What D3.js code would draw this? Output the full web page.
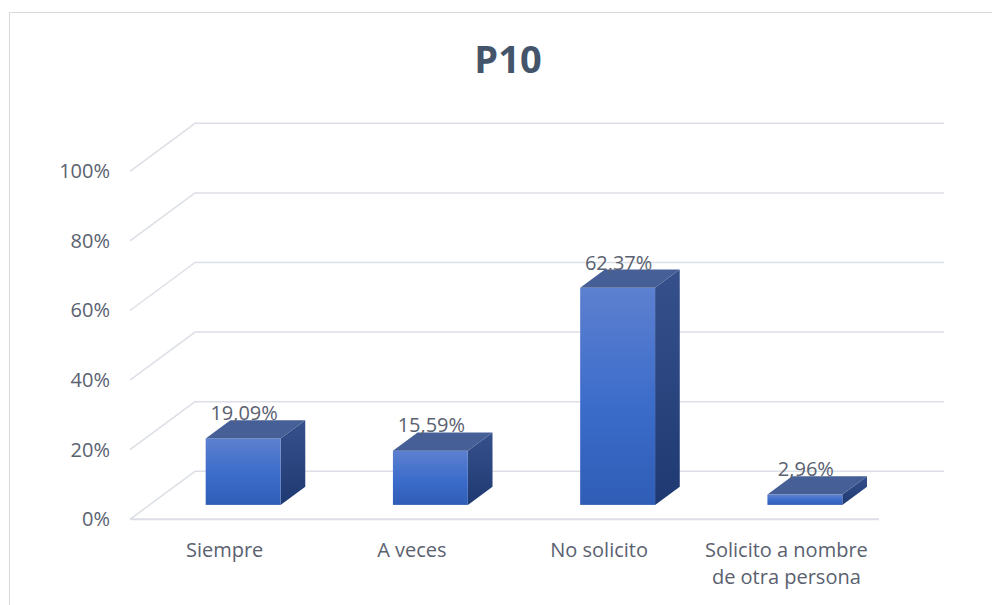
<!DOCTYPE html>
<html>
<head>
<meta charset="utf-8">
<script src="https://cdn.jsdelivr.net/npm/d3@7"></script>
<style>
    html, body { margin: 0; padding: 0; background: #fff; }
    svg { display: block; font-family: "Open Sans", sans-serif; }
</style>
</head>
<body>
<div id="chart"></div>
<script>
// values
const title = "P10";
const categories = ["Siempre", "A veces", "No solicito", "Solicito a nombre de otra persona"];
const values = [0.1909, 0.1559, 0.6237, 0.0296];
const yTicks = [0, 0.2, 0.4, 0.6, 0.8, 1];

const width = 992, height = 605;
const textColor = "#5a6170";
const gridColor = "#dcdfe6";

// floor of the 3d plot: front edge and depth vector
const floor = { x0: 130, x1: 879, y: 519.3 };
const depth = { dx: 65, dy: -48 };
// bar sits between these fractions of the depth
const barFront = 0.3, barBack = 0.68;

const locale = d3.formatLocale({ decimal: ",", thousands: ".", grouping: [3], currency: ["", "€"] });
const pct2 = locale.format(".2%");
const pct0 = d3.format(".0%");

const svg = d3.select("#chart")
    .append("svg")
    .attr("width", width)
    .attr("height", height);

// chart area border
svg.append("rect")
    .attr("x", 9.5).attr("y", 12.5)
    .attr("width", 1000).attr("height", 700)
    .attr("fill", "#fff")
    .attr("stroke", "#d9d9d9");

svg.append("text")
    .attr("x", 508).attr("y", 73)
    .attr("text-anchor", "middle")
    .attr("font-size", 38)
    .attr("font-weight", "bold")
    .attr("fill", "#44546a")
    .text(title);

// scales
const y = d3.scaleLinear()
    .domain([0, 1])
    .range([floor.y, floor.y - 348]);

const x = d3.scaleBand()
    .domain(categories)
    .range([floor.x0, floor.x1])
    .padding(0);

// gridlines: back wall + left wall diagonal
const grid = svg.append("g").attr("class", "grid")
    .attr("stroke", gridColor)
    .attr("stroke-width", 1.5)
    .attr("fill", "none");

grid.selectAll("line.back")
    .data(yTicks)
    .enter()
    .append("line")
    .attr("class", "back")
    .attr("x1", floor.x0 + depth.dx).attr("y1", d => y(d) + depth.dy)
    .attr("x2", floor.x1 + depth.dx).attr("y2", d => y(d) + depth.dy);

grid.selectAll("line.side")
    .data(yTicks)
    .enter()
    .append("line")
    .attr("class", "side")
    .attr("x1", floor.x0).attr("y1", d => y(d))
    .attr("x2", floor.x0 + depth.dx).attr("y2", d => y(d) + depth.dy);

// front edge of the floor
grid.append("line")
    .attr("stroke-width", 2)
    .attr("x1", floor.x0).attr("y1", floor.y)
    .attr("x2", floor.x1).attr("y2", floor.y);

// y axis labels at the front
svg.append("g")
    .attr("class", "y axis")
    .attr("transform", "translate(110,0)")
    .call(d3.axisLeft(y)
        .tickValues(yTicks)
        .tickFormat(pct0)
        .tickSize(0)
        .tickPadding(0))
    .call(g => g.select(".domain").remove())
    .call(g => g.selectAll("text")
        .attr("font-family", "Open Sans")
        .attr("font-size", 20)
        .attr("fill", textColor));

// gradients
const defs = svg.append("defs");
const gFront = defs.append("linearGradient")
    .attr("id", "gFront").attr("x1", 0).attr("y1", 0).attr("x2", 0).attr("y2", 1);
gFront.append("stop").attr("offset", "0%").attr("stop-color", "#5d80d0");
gFront.append("stop").attr("offset", "55%").attr("stop-color", "#3b6cca");
gFront.append("stop").attr("offset", "100%").attr("stop-color", "#2f5db6");

const gSide = defs.append("linearGradient")
    .attr("id", "gSide").attr("x1", 0).attr("y1", 0).attr("x2", 0).attr("y2", 1);
gSide.append("stop").attr("offset", "0%").attr("stop-color", "#36508c");
gSide.append("stop").attr("offset", "100%").attr("stop-color", "#1f3a72");

// bars
const barW = x.bandwidth() * 0.4;
const fdx = depth.dx * barFront, fdy = depth.dy * barFront;
const bdx = depth.dx * (barBack - barFront), bdy = depth.dy * (barBack - barFront);

const bars = svg.selectAll("g.bar")
    .data(categories.map((c, i) => ({ c: c, v: values[i] })))
    .enter()
    .append("g")
    .attr("class", "bar");

function geom(d) {
    const cx = x(d.c) + x.bandwidth() / 2 + fdx;
    return {
        x0: cx - barW / 2,
        x1: cx + barW / 2,
        yb: y(0) + fdy,
        yt: y(d.v) + fdy
    };
}

bars.append("path")
    .attr("fill", "url(#gSide)")
    .attr("d", d => {
        const b = geom(d);
        return `M${b.x1},${b.yt}L${b.x1 + bdx},${b.yt + bdy}L${b.x1 + bdx},${b.yb + bdy}L${b.x1},${b.yb}Z`;
    });

bars.append("rect")
    .attr("fill", "url(#gFront)")
    .attr("x", d => geom(d).x0)
    .attr("y", d => geom(d).yt)
    .attr("width", barW)
    .attr("height", d => geom(d).yb - geom(d).yt);

bars.append("path")
    .attr("fill", "#475f97")
    .attr("d", d => {
        const b = geom(d);
        return `M${b.x0},${b.yt}L${b.x0 + bdx},${b.yt + bdy}L${b.x1 + bdx},${b.yt + bdy}L${b.x1},${b.yt}Z`;
    });

// data labels
bars.append("text")
    .attr("x", d => (geom(d).x0 + geom(d).x1) / 2 + 1)
    .attr("y", d => geom(d).yt + bdy)
    .attr("text-anchor", "middle")
    .attr("font-size", 20)
    .attr("fill", textColor)
    .text(d => pct2(d.v));

// category labels, wrapped like excel does
const catLabels = svg.selectAll("text.cat")
    .data(categories)
    .enter()
    .append("text")
    .attr("class", "cat")
    .attr("text-anchor", "middle")
    .attr("font-size", 20)
    .attr("fill", textColor);

catLabels.each(function (d) {
    const el = d3.select(this);
    const cx = x(d) + x.bandwidth() / 2 + 1;
    const words = d.split(" ");
    let line = [];
    let lineNo = 0;
    let tspan = el.append("tspan").attr("x", cx).attr("y", 556.5);
    words.forEach(w => {
        line.push(w);
        tspan.text(line.join(" "));
        if (tspan.node().getComputedTextLength() > 175 && line.length > 1) {
            line.pop();
            tspan.text(line.join(" "));
            line = [w];
            lineNo++;
            tspan = el.append("tspan").attr("x", cx).attr("y", 556.5 + lineNo * 27).text(w);
        }
    });
});
</script>
</body>
</html>
